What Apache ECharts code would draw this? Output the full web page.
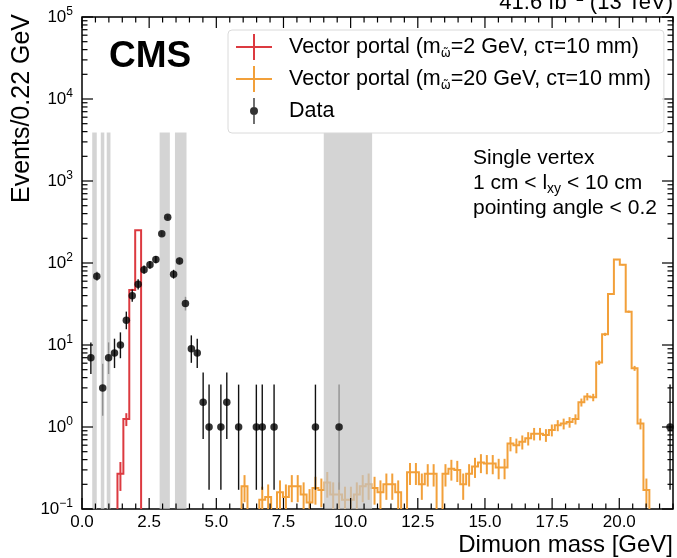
<!DOCTYPE html>
<html><head><meta charset="utf-8">
<script src="https://cdn.jsdelivr.net/npm/echarts@6/dist/echarts.min.js"></script>
<style>html,body{margin:0;padding:0;background:#fff}#c{width:677px;height:558px}</style>
</head><body><div id="c"></div>
<script>
// ---------- data ----------
const BIN_WIDTH = 0.22;
const X_MIN = 0, X_MAX = 22;
const Y_MIN = 0.1, Y_MAX = 1e5;
const xTickValues = [0, 2.5, 5, 7.5, 10, 12.5, 15, 17.5, 20];

// observed data: bin index and counts
const dataBins   = [1, 2, 3, 4, 5, 6, 7, 8, 9, 10, 11, 12, 13, 14, 15, 16, 17, 18, 19, 20, 21, 23, 24, 26, 29, 30, 32, 39, 43, 99];
const dataCounts = [7, 69, 3, 7, 8, 10, 20, 40, 55, 83, 95, 110, 228, 361, 73, 106, 32, 9, 8, 2, 1, 1, 2, 1, 1, 1, 1, 1, 1, 1];

// signal m=2 GeV
const sig2StartBin = 6;
const sig2Values = [0.27, 1.25, 47, 250];
const sig2Weight = 0.04;

// signal m=20 GeV (bins 27..95)
const sig20StartBin = 27;
const sig20Values = [
  0.19, 0, 0, 0.13, 0.14, 0, 0.16, 0.14, 0.19, 0.19,
  0.15, 0.12, 0.18, 0.17, 0.21, 0.15, 0.15, 0.13, 0.13, 0.15,
  0.19, 0.20, 0.18, 0.16, 0.20, 0.20, 0.16, 0, 0.28, 0.28,
  0.20, 0.27, 0.27, 0, 0.27, 0.31, 0.30, 0.20, 0.27, 0.33,
  0.37, 0.36, 0.36, 0.32, 0.32, 0.63, 0.60, 0.66, 0.73, 0.83,
  0.83, 0.80, 0.92, 1.05, 1.10, 1.15, 1.25, 2.0, 2.35, 2.3,
  6.1, 13.5, 42, 110, 95, 25.5, 5.2, 1.1, 0.17
];
const sig20Weight = 0.025;

// masked resonance regions [GeV]
const vetoBands = [[0.38, 0.55], [0.70, 0.83], [0.92, 1.06], [2.89, 3.27], [3.46, 3.89], [9.0, 10.8]];
const vetoTop = 3900;

// ---------- styling ----------
const FONT = "'Liberation Sans', Arial, Helvetica, sans-serif";
const RED = '#dc3a40', ORANGE = '#f2a03a';
const FLOOR = 0.02;

function gehrelsLow(n) { return n <= 0 ? 0 : n * Math.pow(1 - 1 / (9 * n) - 1 / (3 * Math.sqrt(n)), 3); }
function gehrelsHigh(n) { const m = n + 1; return m * Math.pow(1 - 1 / (9 * m) + 1 / (3 * Math.sqrt(m)), 3); }

function stepRender(startBin, values, weight, color) {
  return function (params, api) {
    const fl = v => Math.max(v, FLOOR);
    const pts = [api.coord([startBin * BIN_WIDTH, FLOOR])];
    values.forEach((val, i) => {
      const a = (startBin + i) * BIN_WIDTH, b = a + BIN_WIDTH;
      pts.push(api.coord([a, fl(val)]));
      pts.push(api.coord([b, fl(val)]));
    });
    pts.push(api.coord([(startBin + values.length) * BIN_WIDTH, FLOOR]));
    const children = [{ type: 'polyline', shape: { points: pts }, style: { stroke: color, lineWidth: 2, fill: null } }];
    values.forEach((val, i) => {
      if (val <= 0) return;
      const err = Math.sqrt(val * weight);
      const c = (startBin + i + 0.5) * BIN_WIDTH;
      const p1 = api.coord([c, fl(val - err)]), p2 = api.coord([c, val + err]);
      children.push({ type: 'line', shape: { x1: p1[0], y1: p1[1], x2: p2[0], y2: p2[1] }, style: { stroke: color, lineWidth: 2 } });
    });
    return { type: 'group', children };
  };
}

function dataErrRender(params, api) {
  const children = dataBins.map((b, i) => {
    const n = dataCounts[i];
    const c = (b + 0.5) * BIN_WIDTH;
    const p1 = api.coord([c, Math.max(gehrelsLow(n), FLOOR)]);
    const p2 = api.coord([c, gehrelsHigh(n)]);
    return { type: 'line', shape: { x1: p1[0], y1: p1[1], x2: p2[0], y2: p2[1] }, style: { stroke: '#111', lineWidth: 1.4 } };
  });
  return { type: 'group', children };
}

function bandRender(params, api) {
  const children = vetoBands.map(([a, b]) => {
    const p1 = api.coord([a, vetoTop]), p2 = api.coord([b, Y_MIN]);
    return { type: 'rect', shape: { x: p1[0], y: p1[1], width: p2[0] - p1[0], height: p2[1] - p1[1] }, style: { fill: 'rgba(195,195,195,0.72)' } };
  });
  return { type: 'group', children };
}

function tickRender(params, api) {
  const bl = api.coord([X_MIN, Y_MIN]), tr = api.coord([X_MAX, Y_MAX]);
  const L = bl[0], B = bl[1], R = tr[0], T = tr[1];
  const MAJ = 11, MIN = 5.5;
  const ch = [];
  const ln = (x1, y1, x2, y2) => ch.push({ type: 'line', shape: { x1, y1, x2, y2 }, style: { stroke: '#000', lineWidth: 1.2 } });
  for (let k = 0; k <= 44; k++) {
    const v = k * 0.5;
    const x = api.coord([v, Y_MIN])[0];
    const len = (k % 5 === 0) ? MAJ : MIN;
    ln(x, B, x, B - len); ln(x, T, x, T + len);
  }
  for (let e = -1; e <= 5; e++) {
    for (let m = 1; m <= 9; m++) {
      const v = m * Math.pow(10, e);
      if (v > Y_MAX) break;
      const y = api.coord([X_MIN, v])[1];
      const len = m === 1 ? MAJ : MIN;
      ln(L, y, L + len, y); ln(R, y, R - len, y);
    }
  }
  return { type: 'group', children: ch };
}

const crossIcon = 'path://M0 12H36V14H0Z M17 0H19V26H17Z';
const dataIcon = 'path://M17.3 0H18.7V26H17.3Z M14 13a4 4 0 1 1 8 0a4 4 0 1 1 -8 0Z';

const labels = {
  sig2: 'Vector portal (m{sub|ω\u0303}=2 GeV, cτ=10 mm)',
  sig20: 'Vector portal (m{sub|ω\u0303}=20 GeV, cτ=10 mm)',
  Data: 'Data'
};

const chart = echarts.init(document.getElementById('c'), null, { renderer: 'canvas' });
chart.setOption({
  animation: false,
  grid: { left: 82, right: 4, top: 17, bottom: 49, show: true, borderColor: '#000', borderWidth: 1.5, backgroundColor: 'transparent' },
  xAxis: {
    type: 'value', min: X_MIN, max: X_MAX, interval: 2.5,
    axisLine: { show: false }, axisTick: { show: false }, splitLine: { show: false },
    axisLabel: { showMaxLabel: false, formatter: v => v.toFixed(1), fontFamily: FONT, fontSize: 17, color: '#000', margin: 5 }
  },
  yAxis: {
    type: 'log', logBase: 10, min: Y_MIN, max: Y_MAX, splitNumber: 6,
    axisLine: { show: false }, axisTick: { show: false }, splitLine: { show: false }, minorTick: { show: false },
    axisLabel: {
      margin: 9, color: '#000', fontFamily: FONT, fontSize: 17, lineHeight: 22,
      formatter: v => '10{sup|' + String(Math.round(Math.log10(v))).replace('-', '−') + '}',
      rich: { sup: { fontFamily: FONT, fontSize: 12, lineHeight: 12, verticalAlign: 'top', color: '#000' } }
    }
  },
  legend: {
    left: 228, top: 30, orient: 'vertical', selectedMode: false,
    padding: [4, 13, 9, 8], itemGap: 6, itemWidth: 36, itemHeight: 26,
    backgroundColor: 'rgba(255,255,255,0.85)', borderColor: '#dadada', borderWidth: 1, borderRadius: 4,
    textStyle: {
      fontFamily: FONT, fontSize: 21.5, lineHeight: 26, color: '#000', padding: [0, 0, 0, 12],
      rich: { sub: { fontFamily: "'DejaVu Sans', sans-serif", fontSize: 12, lineHeight: 12, verticalAlign: 'bottom', color: '#000' } }
    },
    formatter: name => labels[name],
    data: [
      { name: 'sig2', icon: crossIcon, itemStyle: { color: RED, borderWidth: 0 } },
      { name: 'sig20', icon: crossIcon, itemStyle: { color: ORANGE, borderWidth: 0 } },
      { name: 'Data', icon: dataIcon, itemStyle: { color: '#000', borderWidth: 0 } }
    ],
    z: 10
  },
  series: [
    { type: 'custom', name: 'sig2', clip: true, z: 2, renderItem: stepRender(sig2StartBin, sig2Values, sig2Weight, RED), data: [[1, 1]], itemStyle: { color: RED } },
    { type: 'custom', name: 'sig20', clip: true, z: 2, renderItem: stepRender(sig20StartBin, sig20Values, sig20Weight, ORANGE), data: [[1, 1]], itemStyle: { color: ORANGE } },
    { type: 'custom', name: 'DataErr', clip: true, z: 2, renderItem: dataErrRender, data: [[1, 1]], itemStyle: { color: '#000' } },
    { type: 'custom', name: 'bands', z: 3, renderItem: bandRender, data: [[1, 1]], silent: true },
    { type: 'scatter', name: 'Data', z: 4, symbol: 'circle', symbolSize: 7.5, itemStyle: { color: '#000' },
      data: dataBins.map((b, i) => [(b + 0.5) * BIN_WIDTH, dataCounts[i]]) },
    { type: 'custom', name: 'ticks', z: 5, renderItem: tickRender, data: [[1, 1]], silent: true }
  ],
  graphic: [
    { type: 'text', z: 20, x: 109, y: 57, style: { text: 'CMS', fontFamily: FONT, fontWeight: 'bold', fontSize: 37, fill: '#000', verticalAlign: 'middle' } },
    { type: 'text', z: 20, x: 673, y: 15.5, style: {
        text: '41.6 fb{sup|−1} (13 TeV)', fontFamily: FONT, fontSize: 22, lineHeight: 26, fill: '#000', align: 'right', verticalAlign: 'bottom',
        rich: { sup: { fontFamily: FONT, fontSize: 15, lineHeight: 14, verticalAlign: 'top', fill: '#000' } } } },
    { type: 'text', z: 20, x: 673, y: 545, style: { text: 'Dimuon mass [GeV]', fontFamily: FONT, fontSize: 24, fill: '#000', align: 'right', verticalAlign: 'middle' } },
    { type: 'text', z: 20, x: 22, y: 14, rotation: Math.PI / 2, style: { text: 'Events/0.22 GeV', fontFamily: FONT, fontSize: 25, fill: '#000', align: 'right', verticalAlign: 'middle' } },
    { type: 'text', z: 20, x: 473, y: 158, style: { text: 'Single vertex', fontFamily: FONT, fontSize: 21, fill: '#000', verticalAlign: 'middle' } },
    { type: 'text', z: 20, x: 473, y: 183, style: {
        text: '1 cm < l{sub|xy} < 10 cm', fontFamily: FONT, fontSize: 21, lineHeight: 26, fill: '#000', verticalAlign: 'middle',
        rich: { sub: { fontFamily: FONT, fontSize: 14, lineHeight: 12, verticalAlign: 'bottom', fill: '#000' } } } },
    { type: 'text', z: 20, x: 473, y: 208, style: { text: 'pointing angle < 0.2', fontFamily: FONT, fontSize: 21, fill: '#000', verticalAlign: 'middle' } }
  ]
});
</script>
</body></html>
